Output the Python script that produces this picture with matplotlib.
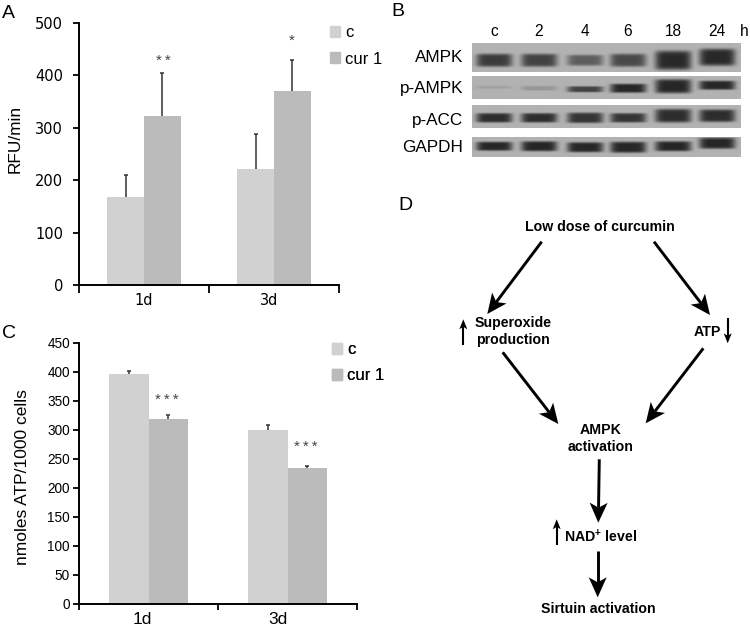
import numpy as np
import matplotlib
matplotlib.use('Agg')
import matplotlib.pyplot as plt
from matplotlib.patches import Polygon, Patch

plt.rcParams['font.family'] = ['Liberation Sans', 'DejaVu Sans']
plt.rcParams['mathtext.fontset'] = 'custom'
plt.rcParams['mathtext.bf'] = 'Liberation Sans:bold'
plt.rcParams['mathtext.rm'] = 'Liberation Sans:bold'

W, H = 750, 628
LIGHT = '#d1d1d1'
DARK = '#bbbbbb'

# panel A
a_c = [168, 222]
a_cur = [323, 370]
a_c_top = [210, 289]
a_cur_top = [405, 429]
a_stars = ['**', '*']
a_star_y = [428, 466]

# panel C
c_c = [396, 300]
c_cur = [318, 234]
c_c_top = [402, 308]
c_cur_top = [325, 237]
c_stars = ['***', '***']
c_star_y = [352, 270]

days = ['1d', '3d']
legend_names = ['c', 'cur 1']

# panel B, one row per protein: strength, half height, centre y (px in the picture)
lanes = ['c', '2', '4', '6', '18', '24']
lane_x = [494, 539, 585, 628, 673, 717]
proteins = ['AMPK', 'p-AMPK', 'p-ACC', 'GAPDH']
strip_y = [(43, 72), (76, 99), (105, 128), (137, 157)]
label_y = [57, 89, 121, 147]
strength = [[0.85, 0.80, 0.60, 0.75, 0.98, 0.98],
            [0.12, 0.20, 0.80, 1.00, 1.00, 1.00],
            [0.95, 0.95, 0.90, 0.90, 0.95, 0.95],
            [1.00, 1.00, 1.00, 1.00, 1.00, 1.00]]
half_h = [[6.5, 6.5, 5.5, 6.5, 9.5, 8.5],
          [1.5, 2.2, 3.0, 4.5, 7.0, 4.5],
          [4.5, 4.5, 5.0, 4.5, 6.5, 6.0],
          [4.5, 5.0, 5.0, 5.5, 5.0, 5.5]]
band_y = [[60, 60, 60, 60, 60, 57],
          [87, 88, 89, 88, 86, 85],
          [118, 118, 118, 118, 116, 116],
          [146, 146, 147, 147, 146, 143]]

# panel D
d_texts = [('Low dose of curcumin', 600, 227), ('Superoxide', 513, 323),
           ('production', 513, 340), ('ATP', 707, 332), ('AMPK', 601, 430),
           ('activation', 601, 447), ('NAD$^{+}$ level', 601, 537),
           ('Sirtuin activation', 598, 609)]
big_arrows = [(541.7, 241.7, 487.3, 314), (654, 241.7, 710, 315),
              (502.7, 352.3, 558.3, 424), (703.3, 348.3, 645.7, 423.3),
              (599.3, 459.3, 598.3, 522.7), (597.7, 550.7, 597.7, 597.3)]
small_arrows = [(463.3, 345, 463.3, 319.3), (727.7, 318.3, 727.7, 343.3),
                (556.7, 545, 556.7, 519.3)]
panel_letters = [('A', 8, 13), ('B', 398, 12), ('C', 9, 333), ('D', 405, 205)]


def px_axes(fig, left, top, right, bottom):
    return fig.add_axes([left / W, 1 - bottom / H, (right - left) / W, (bottom - top) / H])


def bar_panel(ax, c, cur, c_top, cur_top, ymax, yticks, label_pos, bw, ypad, xlen):
    x = np.array([0.5, 1.5])
    ax.bar(x - bw / 2, c, bw, color=LIGHT, clip_on=False)
    ax.bar(x + bw / 2, cur, bw, color=DARK, clip_on=False)
    for xs, v, top in [(x - bw / 2, c, c_top), (x + bw / 2, cur, cur_top)]:
        ax.vlines(xs, v, top, color='#333333', lw=1.1)
        ax.plot(xs, top, ls='none', marker='_', ms=3.5, mew=1.1, color='#333333', clip_on=False)
    ax.set_xlim(0, 2)
    ax.set_ylim(0, ymax)
    ax.set_yticks(yticks)
    ax.set_xticks([0, 1, 2])
    ax.set_xticklabels([])
    ax.set_xticks(label_pos, minor=True)
    ax.set_xticklabels(days, minor=True)
    ax.tick_params(axis='x', which='minor', length=0, pad=6)
    ax.tick_params(axis='x', which='major', length=xlen, width=1.3)
    ax.tick_params(axis='y', length=4.5, width=1.3, pad=ypad)
    ax.spines['top'].set_visible(False)
    ax.spines['right'].set_visible(False)
    ax.spines['left'].set_linewidth(1.4)
    ax.spines['bottom'].set_linewidth(1.4)


def arrow(ax, x0, y0, x1, y1, head_l, head_w, lw):
    d = np.array([x1 - x0, y1 - y0], float)
    d /= np.hypot(*d)
    n = np.array([-d[1], d[0]])
    tip = np.array([x1, y1])
    base = tip - d * head_l
    notch = tip - d * head_l * 0.75
    ax.plot([x0, notch[0]], [y0, notch[1]], color='black', lw=lw, solid_capstyle='butt')
    ax.add_patch(Polygon([tip, base + n * head_w / 2, notch, base - n * head_w / 2],
                         closed=True, color='black', lw=0))


def stars(ax, xs, marks, ys):
    for x, s, y in zip(xs, marks, ys):
        ax.text(x, y, '\u2009'.join(s), ha='center', va='center', fontsize=11, color='#444444')


fig = plt.figure(figsize=(W / 100, H / 100), dpi=100)

# overlay in picture pixels for labels and the flow diagram
ov = fig.add_axes([0, 0, 1, 1], zorder=5)
ov.set_xlim(0, W)
ov.set_ylim(H, 0)
ov.axis('off')

# A
ax_a = px_axes(fig, 79, 23, 339, 285)
bar_panel(ax_a, a_c, a_cur, a_c_top, a_cur_top, 500, range(0, 501, 100), [0.5, 1.46], 0.283, 7, 5.8)
ax_a.tick_params(axis='both', which='both', labelsize=10.5)
for lab in ax_a.get_yticklabels() + ax_a.get_xticklabels(minor=True):
    lab.set_fontfamily('DejaVu Sans')
stars(ax_a, [0.65, 1.64], a_stars, a_star_y)
ov.text(15, 139, 'RFU/min', rotation=90, ha='center', va='center', fontsize=12.4)

# C
ax_c = px_axes(fig, 79, 342.7, 357, 603.7)
bar_panel(ax_c, c_c, c_cur, c_c_top, c_cur_top, 450, range(0, 451, 50), [0.453, 1.43], 0.285, 2, 4.5)
ax_c.tick_params(axis='y', labelsize=9.8)
ax_c.tick_params(axis='x', which='minor', labelsize=12.5)
stars(ax_c, [0.635, 1.635], c_stars, c_star_y)
ov.text(23, 477, 'nmoles ATP/1000 cells', rotation=90, ha='center', va='center', fontsize=12.5)

# legends
handles = [Patch(color=LIGHT), Patch(color=DARK)]
for left, top, gap in [(330, 25, 0.7), (332, 342, 0.68)]:
    leg = ov.legend(handles, legend_names, loc='upper left', bbox_to_anchor=(left, top),
                    bbox_transform=ov.transData, frameon=False, fontsize=12, handlelength=0.62,
                    handleheight=0.62, handletextpad=0.3, labelspacing=gap, borderpad=0, borderaxespad=0)
    ov.add_artist(leg)

# B
x0, x1 = 472, 741
for k, (top, bottom) in enumerate(strip_y):
    ax = px_axes(fig, x0, top, x1, bottom)
    xx, yy = np.meshgrid(np.arange(x0, x1, 0.5), np.arange(top, bottom, 0.5))
    dens = np.zeros(xx.shape)
    for j, lx in enumerate(lane_x):
        r = ((xx - lx) / 18) ** 6 + ((yy - band_y[k][j]) / half_h[k][j]) ** 6
        dens = np.maximum(dens, strength[k][j] * np.exp(-r))
    img = 178 - 140 * dens
    ax.imshow(img, cmap='gray', vmin=0, vmax=255, aspect='auto', interpolation='bilinear')
    ax.axis('off')
    ov.text(463, label_y[k], proteins[k], ha='right', va='center', fontsize=12.3)
for name, lx in zip(lanes, lane_x):
    ov.text(lx, 32, name, ha='center', va='center', fontsize=11.2)
ov.text(744, 32, 'h', ha='center', va='center', fontsize=11.2)

# D
for s, x, y in d_texts:
    ov.text(x, y, s, ha='center', va='center', fontsize=10.2, fontweight='bold')
for a in big_arrows:
    arrow(ov, *a, 20, 18, 2.1)
for a in small_arrows:
    arrow(ov, *a, 10, 8, 1.5)

for s, x, y in panel_letters:
    ov.text(x, y, s, ha='center', va='center', fontsize=14)

fig.savefig('out.png', dpi=100)
